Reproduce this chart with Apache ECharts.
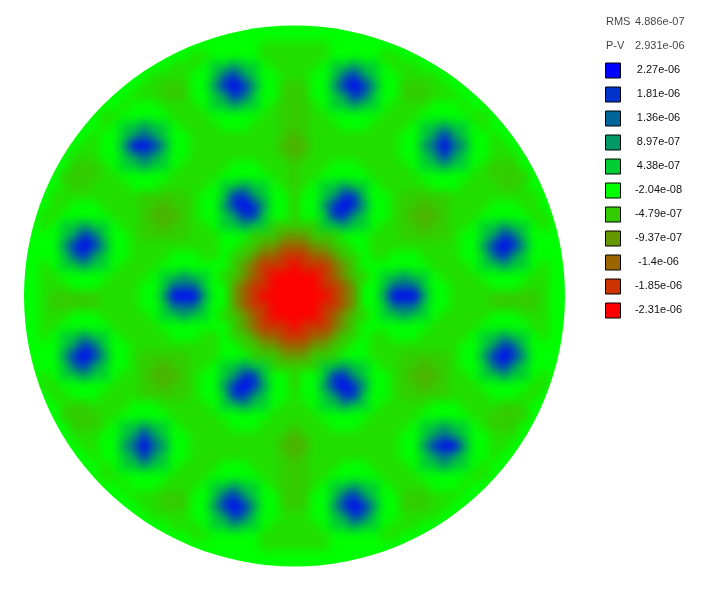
<!DOCTYPE html>
<html>
<head>
<meta charset="utf-8">
<script src="https://cdn.jsdelivr.net/npm/echarts@6/dist/echarts.min.js"></script>
<style>
html, body { margin: 0; background: #fff; }
/* disc edge comes from the clip, the blur smooths the 10px cells */
#disc { position: absolute; left: 0; top: 0; width: 590px; height: 592px; clip-path: circle(270.5px at 294.5px 296px); }
#map { width: 590px; height: 592px; filter: blur(5px); }
#side { position: absolute; left: 595px; top: 0; width: 107px; height: 340px; }
</style>
</head>
<body>
<div id="disc"><div id="map"></div></div>
<div id="side"></div>
<script>
var stats = [['RMS', '4.886e-07'], ['P-V', '2.931e-06']];
var levelLabels = ['2.27e-06', '1.81e-06', '1.36e-06', '8.97e-07', '4.38e-07', '-2.04e-08',
	'-4.79e-07', '-9.37e-07', '-1.4e-06', '-1.85e-06', '-2.31e-06'];
var levels = [2.27e-6, 1.81e-6, 1.36e-6, 8.97e-7, 4.38e-7, -2.04e-8,
	-4.79e-7, -9.37e-7, -1.4e-6, -1.85e-6, -2.31e-6];
var colors = ['#0000ff', '#0033cc', '#006699', '#009966', '#00cc33', '#00ff00',
	'#33cc00', '#669900', '#996600', '#cc3300', '#ff0000'];
// the two shades of the background that fall between legend steps
var between = { g: -3.2e-7, h: -7.08e-7 };

// surface, one char per cell: index into levels (a = 10) or a key of between
var surface = [
	'55555 55555 55555 55555 55555 55555 55555 55555 55555 55555 55555',
	'55555 55555 55555 55555 55555 55555 55555 55555 55555 55555 55555',
	'55555 55555 55555 55555 5555 ggggggg 5555 55555 55555 55555 55555',
	'55555 55555 55555 55 gg55555gg ggg gg55555gg 55555 55555 55555 55',
	'55555 55555 55555 gg g5443445g ggg g5443445g gg 55555 55555 55555',
	'55555 55555 555 gggg 554213455 ggg 554213455 gggg 555 55555 55555',
	'55555 55555 55 gg666 553101355 666 553101355 666gg 55 55555 55555',
	'55555 55555 5 ggg666 554312455 666 554312455 666ggg 5 55555 55555',
	'55555 55555 g555ggg g5443445g 666 g5443445g ggg555g 55555 55555',
	'55555 555 gg55555gg gg55555gg 666 gg55555gg gg55555gg 555 55555',
	'55555 555 g5443445g ggg555ggg 666 ggg555ggg g5443445g 555 55555',
	'55555 55 g 554323455 ggggggggg 6h6 ggggggggg 554313455 g 55 55555',
	'55555 5 gg 553001355 ggggggggg hhh ggggggggg 553202355 gg 5 55555',
	'55555 ggg 554323455 ggggggggg 6h6 ggggggggg 554313455 ggg 55555',
	'55555 666 g5443445g g ggg555ggg 6 ggg555ggg g g5443445g 666 55555',
	'5555 6666 gg55555gg g gg55555gg 6 gg55555gg g gg55555gg 6666 5555',
	'5555 g66g ggg555ggg g g5443445g 6 g5443445g g ggg555ggg g66g 5555',
	'555 ggggg gggg66666g 554113455 6 554311455 g66666gggg ggggg 555',
	'555 gg 555 ggg g 66h66 g 553101355 6 553101355 g 66h66 g ggg 555 gg 555',
	'55 gg55555gg g 6hhh6 g 554311455 6 554113455 g 6hhh6 g gg55555gg 55',
	'55 g5443445g g 66h66 g g54434466 6 66443445g g 66h66 g g5443445g 55',
	'55 554312455 g66666g gg5556667 7 7666555gg g66666g 554312455 55',
	'55 553101355 ggggggg gg5566778 8 8776655gg ggggggg 553101355 55',
	'55 554213455 g ggg555gg5 6678899988766 5gg555ggg g 554213455 55',
	'55 g5443445g g gg5555555 678999a999876 5555555gg g g5443445g 55',
	'55 gg55555gg g g54434456 6789aaaaa9876 65443445g g gg55555gg 55',
	'55 ggg555ggg g 554222455 7899aaaaa9987 554222455 g ggg555ggg 55',
	'55 g66666ggg g 553000355 789aaaaaaa987 553000355 g ggg66666g 55',
	'55 g66666ggg g 554222455 7899aaaaa9987 554222455 g ggg66666g 55',
	'55 ggg555ggg g g54434456 6789aaaaa9876 65443445g g ggg555ggg 55',
	'55 gg55555gg g gg5555555 678999a999876 5555555gg g gg55555gg 55',
	'55 g5443445g g ggg555gg5 6678899988766 5gg555ggg g g5443445g 55',
	'55 554312455 ggggggg gg5566778 8 8776655gg ggggggg 554312455 55',
	'55 553101355 g66666g gg5556667 7 7666555gg g66666g 553101355 55',
	'55 554213455 g 66h66 g g54434466 6 66443445g g 66h66 g 554213455 55',
	'55 g5443445g g 6hhh6 g 554311455 6 554113455 g 6hhh6 g g5443445g 55',
	'55 gg55555gg g 66h66 g 553101355 6 553101355 g 66h66 g gg55555gg 55',
	'555 gg 555 ggg g 66666 g 554113455 g 554311455 g 66666 g ggg 555 gg 555',
	'5555 g66g ggg555ggg g g5443445g g g5443445g g ggg555ggg g66g 5555',
	'5555 6666 gg55555gg g gg55555gg g gg55555gg g gg55555gg 6666 5555',
	'55555 666 g5443445g g ggg555ggg 6 ggg555ggg g g5443445g 666 55555',
	'55555 ggg 554313455 ggggggggg 6h6 ggggggggg 554323455 ggg 55555',
	'55555 5 gg 553202355 ggggggggg hhh ggggggggg 553100355 gg 5 55555',
	'55555 55 g 554313455 ggggggggg 6h6 ggggggggg 554323455 g 55 55555',
	'55555 555 g5443445g ggg555ggg 666 ggg555ggg g5443445g 555 55555',
	'55555 555 gg55555gg gg55555gg 666 gg55555gg gg55555gg 555 55555',
	'55555 55555 g555ggg g5443445g 666 g5443445g ggg555g 55555 55555',
	'55555 55555 5 ggg666 554213455 666 554213455 666ggg 5 55555 55555',
	'55555 55555 55 gg666 553101355 666 553101355 666gg 55 55555 55555',
	'55555 55555 555 gggg 554312455 ggg 554312455 gggg 555 55555 55555',
	'55555 55555 55555 gg g5443445g ggg g5443445g gg 55555 55555 55555',
	'55555 55555 55555 55 gg55555gg ggg gg55555gg 55555 55555 55555 55',
	'55555 55555 55555 55555 5555 ggggggg 5555 55555 55555 55555 55555',
	'55555 55555 55555 55555 55555 55555 55555 55555 55555 55555 55555',
	'55555 55555 55555 55555 55555 55555 55555 55555 55555 55555 55555'
];

window.onload = function () {

	var cells = [];
	var cats = [];
	surface.forEach(function (row, r) {
		cats.push(r);
		row.replace(/ /g, '').split('').forEach(function (ch, c) {
			var v = between[ch] !== undefined ? between[ch] : levels[parseInt(ch, 16)];
			cells.push([c, r, v]);
		});
	});

	var mapChart = echarts.init(document.getElementById('map'));
	mapChart.setOption({
		animation: false,
		backgroundColor: '#00ff00',
		grid: { left: 19.5, top: 21, width: 550, height: 550 },
		xAxis: { type: 'category', data: cats, show: false },
		yAxis: { type: 'category', data: cats, show: false, inverse: true },
		visualMap: {
			show: false,
			min: levels[levels.length - 1],
			max: levels[0],
			dimension: 2,
			inRange: { color: colors.slice().reverse() }
		},
		series: [{
			type: 'heatmap',
			data: cells,
			progressive: 0,
			itemStyle: { borderWidth: 0 }
		}]
	});

	// legend column: stat rows first, then one swatch per level
	var rows = stats.map(function (s) { return s[0]; }).concat(levelLabels);
	var sideChart = echarts.init(document.getElementById('side'));
	sideChart.setOption({
		animation: false,
		grid: { left: 18, top: 10.5, width: 80, height: 312 },
		xAxis: { type: 'value', min: 0, max: 1, show: false },
		yAxis: { type: 'category', data: rows, show: false, inverse: true },
		series: [
			{
				type: 'scatter',
				symbol: 'rect',
				symbolSize: 15,
				itemStyle: {
					color: function (p) { return colors[p.dataIndex]; },
					borderColor: '#000',
					borderWidth: 1,
					opacity: 1
				},
				label: {
					show: true,
					position: [53.5, 7],
					align: 'center',
					verticalAlign: 'middle',
					fontFamily: 'Liberation Sans',
					fontSize: 11,
					color: '#111',
					formatter: function (p) { return levelLabels[p.dataIndex]; }
				},
				data: levelLabels.map(function (name) { return [0, name]; })
			},
			{
				type: 'scatter',
				symbol: 'rect',
				symbolSize: 15,
				itemStyle: { color: 'rgba(0,0,0,0)' },
				label: {
					show: true,
					position: [0.5, 7],
					align: 'left',
					verticalAlign: 'middle',
					fontFamily: 'Liberation Sans',
					fontSize: 11,
					color: '#111',
					formatter: function (p) { return '{a|' + stats[p.dataIndex][0] + '}{b|' + stats[p.dataIndex][1] + '}'; },
					rich: {
						a: { width: 29, fontFamily: 'Liberation Sans', fontSize: 11, color: '#111' },
						b: { fontFamily: 'Liberation Sans', fontSize: 11, color: '#111' }
					}
				},
				data: stats.map(function (s) { return [0, s[0]]; })
			}
		]
	});
};
</script>
</body>
</html>
